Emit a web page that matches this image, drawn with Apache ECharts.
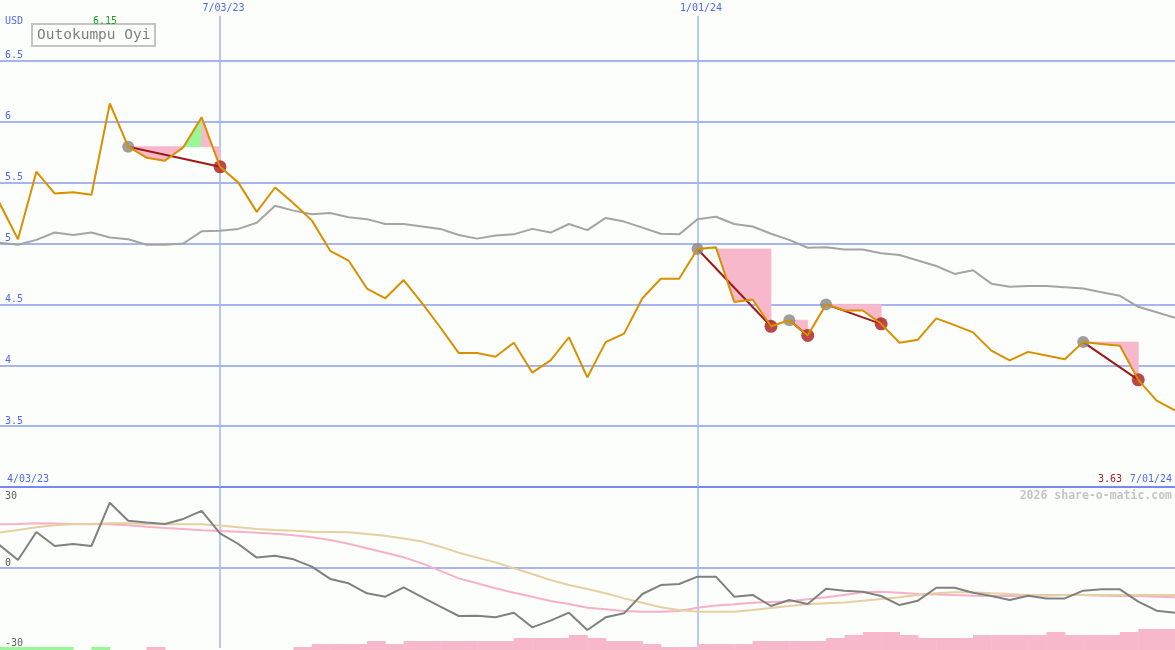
<!DOCTYPE html>
<html><head><meta charset="utf-8">
<script src="https://cdn.jsdelivr.net/npm/echarts@6/dist/echarts.min.js"></script>
<style>html,body{margin:0;padding:0;background:#fcfefc;}#c{width:1175px;height:650px;}</style>
</head><body><div id="c"></div>
<script>
// ---- data (weekly, index 0 = 4/03/23) ----
const companyName = 'Outokumpu Oyi';
const currency = 'USD';
const startLabel = '4/03/23';
const endLabel = '7/01/24';
const markerIdx = [13, 39];
const markerLabels = ['7/03/23', '1/01/24'];
const priceTicks = [3.5, 4, 4.5, 5, 5.5, 6, 6.5];
const oscTicks = [-30, 0, 30];

const price = [5.55, 5.33, 5.035, 5.59, 5.41, 5.42, 5.40, 6.15, 5.795, 5.705,
  5.68, 5.79, 6.036, 5.63, 5.50, 5.26, 5.46, 5.33, 5.19, 4.94,
  4.86, 4.63, 4.55, 4.70, 4.51, 4.31, 4.10, 4.10, 4.07, 4.185,
  3.94, 4.04, 4.23, 3.90, 4.19, 4.26, 4.55, 4.71, 4.71, 4.955,
  4.97, 4.52, 4.54, 4.32, 4.37, 4.245, 4.50, 4.45, 4.45, 4.34,
  4.185, 4.21, 4.385, 4.33, 4.27, 4.12, 4.04, 4.11, 4.08, 4.05,
  4.19, 4.175, 4.16, 3.88, 3.71, 3.63];

const avg = [5.0, 5.007, 4.99, 5.03, 5.09, 5.07, 5.09, 5.05, 5.035, 4.99,
  4.99, 5.00, 5.10, 5.105, 5.12, 5.17, 5.31, 5.27, 5.24, 5.25,
  5.215, 5.20, 5.16, 5.16, 5.14, 5.12, 5.07, 5.04, 5.065, 5.075,
  5.12, 5.09, 5.16, 5.11, 5.21, 5.18, 5.13, 5.08, 5.075, 5.20,
  5.22, 5.16, 5.14, 5.08, 5.03, 4.965, 4.97, 4.95, 4.95, 4.92,
  4.905, 4.86, 4.815, 4.75, 4.78, 4.67, 4.645, 4.65, 4.65, 4.64,
  4.63, 4.60, 4.57, 4.48, 4.435, 4.39];

const osc = [12, 8.6, 3.0, 13.5, 8.25, 9.0, 8.25, 24.5, 17.75, 17.1,
  16.5, 18.4, 21.4, 13.0, 9.0, 3.9, 4.6, 3.25, 0.5, -4.1,
  -5.75, -9.5, -10.75, -7.25, -10.9, -14.5, -18, -17.9, -18.5, -16.75,
  -22.25, -19.75, -16.75, -23.25, -18.5, -17, -9.75, -6.4, -6, -3.25,
  -3.25, -10.75, -10.1, -14.25, -12, -13.5, -7.75, -8.5, -8.9, -10.5,
  -13.9, -12.25, -7.4, -7.4, -9.25, -10.5, -12, -10.4, -11.4, -11.4,
  -8.5, -8.0, -8.0, -12.6, -16, -16.75];

const oscSignal = [16.3, 16.4, 16.5, 16.75, 16.7, 16.5, 16.4, 16.4, 16.0, 15.5,
  15.0, 14.6, 14.2, 13.9, 13.6, 13.25, 12.8, 12.25, 11.5, 10.5,
  9.1, 7.4, 5.75, 4.0, 1.75, -1.1, -3.9, -5.75, -7.6, -9.25,
  -10.75, -12.4, -13.5, -14.9, -15.5, -16.1, -16.4, -16.4, -16.1, -14.9,
  -14.1, -13.6, -13, -12.75, -12.6, -11.75, -11, -10.1, -9.1, -8.9,
  -9.25, -9.75, -9.9, -10.1, -10.4, -10.5, -10.5, -10.4, -10.1, -10.1,
  -10.1, -10.4, -10.5, -10.5, -10.75, -11];

const oscSlow = [12.5, 13.25, 14.25, 15.25, 16, 16.4, 16.5, 16.75, 16.75, 16.5,
  16.4, 16.4, 16.4, 15.9, 15.25, 14.6, 14.25, 14, 13.6, 13.5,
  13.4, 12.75, 12.1, 11.1, 9.9, 8, 5.75, 3.9, 2.1, -0.1,
  -2.25, -4.5, -6.4, -7.9, -9.5, -11.4, -13, -14.75, -15.75, -16.4,
  -16.4, -16.4, -15.75, -15, -14.25, -13.6, -13.25, -12.9, -12.25, -11.6,
  -11, -10.1, -9.5, -9.1, -9.1, -9.5, -9.75, -10.1, -10.4, -10.1,
  -10.1, -10.1, -10.1, -10.1, -10.1, -10.1];

// signed histogram level per week interval (k -> k+1)
const histo = [1, 1, 1, 1, 1, 0, 1, 0, 0, -1,
  0, 0, 0, 0, 0, 0, 0, -1, -2, -2,
  -2, -3, -2, -3, -3, -3, -3, -3, -3, -4,
  -4, -4, -5, -4, -3, -3, -2, -1, -1, -2,
  -2, -2, -3, -3, -3, -3, -4, -5, -6, -6,
  -5, -4, -4, -4, -5, -5, -5, -5, -6, -5,
  -5, -5, -6, -7, -7];

const tradeEntry = [8, 39, 44, 46, 60];
const tradeExit = [13, 43, 45, 49, 63];

// ---- chart ----
const FONT = '"DejaVu Sans Mono", monospace';
const GRIDC = '#a8b4f0';
const BLUE = '#5468ee';
const XMIN = 1.02, XMAX = 65;

const fillData = [];
tradeEntry.forEach((e, t) => {
  for (let k = e; k < tradeExit[t]; k++) fillData.push([k, k + 1, price[e], price[k], price[k + 1]]);
});
const histData = histo.map((v, k) => [k, k + 1, v]);
const idx = price.map((_, i) => i);

const xAx = (g, extra) => Object.assign({type: 'value', gridIndex: g, min: XMIN, max: XMAX,
  axisLabel: {show: false}, axisTick: {show: false}, splitLine: {show: false}, axisLine: {show: false}}, extra || {});

const tradeLines = tradeEntry.map((e, t) => ({
  type: 'line', xAxisIndex: 0, yAxisIndex: 0, z: 4, symbol: 'none', silent: true,
  lineStyle: {color: '#a01818', width: 2},
  data: [[e, price[e]], [tradeExit[t], price[tradeExit[t]]]]
}));

const option = {
  backgroundColor: '#fcfefc',
  animation: false,
  title: {
    text: companyName, left: 32, top: 24, padding: [3, 5, 2, 5],
    borderColor: '#c4c4c4', borderWidth: 2, backgroundColor: '#fcfefc',
    textStyle: {fontFamily: FONT, fontSize: 14.5, fontWeight: 'normal', color: '#808080', lineHeight: 17}
  },
  grid: [
    {left: 0, right: 0, top: 0, height: 487},
    {left: 0, right: 0, top: 488, height: 160},
    {left: 0, right: 0, top: 488, height: 162}
  ],
  xAxis: [
    xAx(0, {axisLine: {show: true, onZero: false, lineStyle: {color: '#7888f0', width: 2}}}),
    xAx(1), xAx(2)
  ],
  yAxis: [
    {type: 'value', gridIndex: 0, position: 'left', min: 3, max: 7, interval: 0.5,
      splitLine: {show: false}, axisLine: {show: false}, axisTick: {show: false},
      axisLabel: {inside: true, margin: 5, verticalAlign: 'bottom', color: BLUE, fontFamily: FONT, fontSize: 10,
        formatter: v => priceTicks.indexOf(v) >= 0 ? String(v) : ''}},
    {type: 'value', gridIndex: 1, position: 'left', min: -30, max: 30, interval: 30,
      splitLine: {show: false}, axisLine: {show: false}, axisTick: {show: false},
      axisLabel: {inside: true, margin: 5, verticalAlign: 'bottom', color: '#606060', fontFamily: FONT, fontSize: 10,
        formatter: v => (v < 30 && oscTicks.indexOf(v) >= 0) ? String(v) : ''}},
    {type: 'value', gridIndex: 1, position: 'left', offset: 0, min: -30, max: 30, interval: 30,
      splitLine: {show: false}, axisLine: {show: false, onZero: false}, axisTick: {show: false},
      axisLabel: {inside: true, margin: 5, verticalAlign: 'top', padding: [3, 0, 0, 0], color: '#606060', fontFamily: FONT, fontSize: 10,
        formatter: v => v === 30 ? String(v) : ''}},
    {type: 'value', gridIndex: 2, min: 0, max: 54, show: false}
  ],
  series: [
    {
      type: 'custom', xAxisIndex: 0, yAxisIndex: 0, z: 2, silent: true,
      encode: {x: [0, 1], y: [2, 3, 4]},
      data: fillData,
      renderItem: (params, api) => {
        const k0 = api.value(0), k1 = api.value(1), e = api.value(2), a = api.value(3), b = api.value(4);
        const col = b > e ? '#98f898' : '#f8b8cc';
        return {type: 'polygon', shape: {points: [api.coord([k0, e]), api.coord([k0, a]), api.coord([k1, b]), api.coord([k1, e])]},
          style: {fill: col, stroke: col, lineWidth: 0.8}};
      },
      markLine: {
        silent: true, symbol: 'none', z: 1, animation: false,
        data: priceTicks.map(v => ({yAxis: v, lineStyle: {color: GRIDC, width: 2, type: 'solid'}, label: {show: false}}))
          .concat(markerIdx.map((m, j) => [
            {coord: [m, 6.87], lineStyle: {color: GRIDC, width: 1.5, type: 'solid'},
              label: {show: true, position: 'start', distance: 2, padding: [0, 0, 0, 7], formatter: markerLabels[j], color: BLUE, fontFamily: FONT, fontSize: 10}},
            {coord: [m, 3]}
          ]))
      }
    },
    {type: 'line', xAxisIndex: 0, yAxisIndex: 0, z: 3, symbol: 'none', silent: true,
      lineStyle: {color: '#a4a4a4', width: 2}, data: idx.map(i => [i, avg[i]])},
    {type: 'scatter', xAxisIndex: 0, yAxisIndex: 0, z: 4, symbolSize: 12, silent: true,
      itemStyle: {color: '#868686'}, data: tradeEntry.map(i => [i, price[i]])},
    {type: 'scatter', xAxisIndex: 0, yAxisIndex: 0, z: 4, symbolSize: 13, silent: true,
      itemStyle: {color: '#a81c1c'}, data: tradeExit.map(i => [i, price[i]])},
    ...tradeLines,
    {type: 'line', xAxisIndex: 0, yAxisIndex: 0, z: 6, symbol: 'none', silent: true,
      lineStyle: {color: '#d89000', width: 2}, data: idx.map(i => [i, price[i]])},
    // histogram
    {
      type: 'custom', xAxisIndex: 2, yAxisIndex: 3, z: 2, silent: true,
      encode: {x: [0, 1], y: 2}, data: histData,
      renderItem: (params, api) => {
        const k0 = api.value(0), k1 = api.value(1), v = api.value(2);
        if (!v) return null;
        const p0 = api.coord([k0, Math.abs(v)]), p1 = api.coord([k1, 0]);
        return {type: 'rect', shape: {x: p0[0], y: p0[1], width: p1[0] - p0[0] + 0.5, height: p1[1] - p0[1]},
          style: {fill: v > 0 ? '#98f898' : '#f8b8cc'}};
      }
    },
    {type: 'line', xAxisIndex: 1, yAxisIndex: 1, z: 3, symbol: 'none', silent: true,
      lineStyle: {color: '#f8b0c8', width: 2}, data: idx.map(i => [i, oscSignal[i]]),
      markLine: {silent: true, symbol: 'none', z: 1, animation: false, label: {show: false},
        data: [{yAxis: 0, lineStyle: {color: GRIDC, width: 2, type: 'solid'}}]
          .concat(markerIdx.map(m => ({xAxis: m, lineStyle: {color: GRIDC, width: 1.5, type: 'solid'}})))}},
    {type: 'line', xAxisIndex: 1, yAxisIndex: 1, z: 3, symbol: 'none', silent: true,
      lineStyle: {color: '#e4d0a0', width: 2}, data: idx.map(i => [i, oscSlow[i]])},
    {type: 'line', xAxisIndex: 1, yAxisIndex: 1, z: 4, symbol: 'none', silent: true,
      lineStyle: {color: '#808080', width: 2}, data: idx.map(i => [i, osc[i]])}
  ],
  graphic: [
    {type: 'text', x: 5, y: 21, z: 10, style: {text: currency, fill: BLUE, font: '10px ' + FONT, verticalAlign: 'middle'}},
    {type: 'text', x: 93, y: 21, z: 10, style: {text: Math.max(...price).toFixed(2), fill: '#20a020', font: '10px ' + FONT, verticalAlign: 'middle'}},
    {type: 'text', x: 7, y: 479, z: 10, style: {text: startLabel, fill: BLUE, font: '10px ' + FONT, verticalAlign: 'middle'}},
    {type: 'text', x: 1122, y: 479, z: 10, style: {text: price[price.length - 1].toFixed(2), fill: '#a02020', font: '10px ' + FONT, align: 'right', verticalAlign: 'middle'}},
    {type: 'text', x: 1172, y: 479, z: 10, style: {text: endLabel, fill: BLUE, font: '10px ' + FONT, align: 'right', verticalAlign: 'middle'}},
    {type: 'text', x: 1172, y: 496, z: 10, style: {text: '2026 share-o-matic.com', fill: '#c4c4c4', font: 'bold 11.5px ' + FONT, align: 'right', verticalAlign: 'middle'}}
  ]
};
const chart = echarts.init(document.getElementById('c'), null, {renderer: 'canvas'});
chart.setOption(option);
</script></body></html>
